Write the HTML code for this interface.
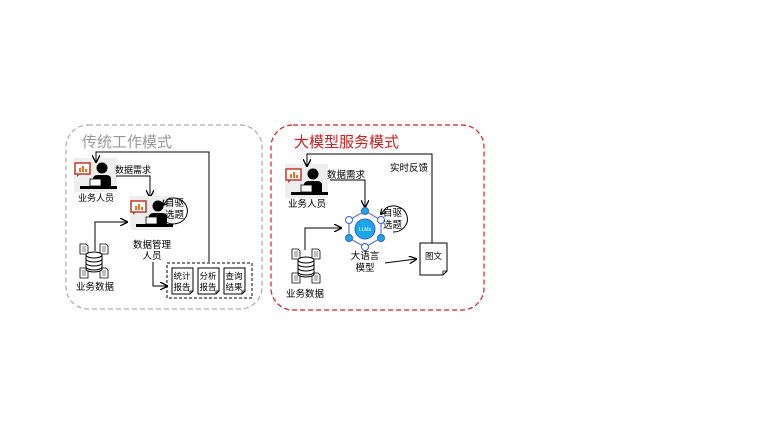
<!DOCTYPE html>
<html><head><meta charset="utf-8"><style>
html,body{margin:0;padding:0;background:#fff;}
svg{display:block;font-family:"Liberation Sans","Noto Sans CJK SC",sans-serif;}
</style></head><body>
<svg width="781" height="439" viewBox="0 0 781 439" xmlns="http://www.w3.org/2000/svg">
<defs>
<marker id="ar" markerWidth="8" markerHeight="8" refX="7" refY="4" orient="auto" markerUnits="userSpaceOnUse">
<path d="M0,0 L8,4 L0,8" fill="none" stroke="#000" stroke-width="1.3"/></marker>
<marker id="ar2" markerWidth="6" markerHeight="6" refX="5" refY="3" orient="auto" markerUnits="userSpaceOnUse">
<path d="M0,0 L6,3 L0,6" fill="none" stroke="#000" stroke-width="1.2"/></marker>
<g id="person">
<rect x="0" y="0" width="43" height="34" fill="#eeeeee"/>
<rect x="1" y="5" width="15" height="11" fill="#fff" stroke="#c0392b" stroke-width="1.5"/>
<path d="M3,16 L3,19 L6,16" fill="#c0392b"/>
<rect x="5" y="10" width="2" height="4" fill="#f07020"/><rect x="8" y="8" width="2" height="6" fill="#f07020"/><rect x="11" y="11" width="2" height="3" fill="#f07020"/>
<circle cx="28" cy="10" r="5.5" fill="#000"/>
<path d="M19,28 L19,21 Q19,17 24,17 L32,17 Q37,17 37,21 L37,28 Z" fill="#000"/>
<rect x="16" y="21" width="11" height="7" fill="#fff" stroke="#000" stroke-width="0.8"/>
<rect x="6" y="28" width="37" height="3" fill="#000"/>
</g>
<g id="doc">
<path d="M0,0 h6 l2,2 v8 h-8 Z" fill="#fff" stroke="#000" stroke-width="0.8"/>
<path d="M2,3h4M2,5h4M2,7h4" stroke="#000" stroke-width="0.6"/>
</g>
<g id="db">
<use href="#doc" x="0" y="0"/><use href="#doc" x="20" y="0"/><use href="#doc" x="0" y="24"/><use href="#doc" x="20" y="24"/>
<g fill="#fff" stroke="#000" stroke-width="1">
<path d="M6,11 v14 a8,3 0 0 0 16,0 v-14"/>
<ellipse cx="14" cy="11" rx="8" ry="3"/>
<path d="M6,15 a8,3 0 0 0 16,0 M6,19 a8,3 0 0 0 16,0 M6,23 a8,3 0 0 0 16,0" fill="none"/>
</g>
</g>
<g id="rep">
<path d="M0,0 h21 v23 l-3,3 h-18 Z" fill="#fff" stroke="#000" stroke-width="1"/>
<path d="M18,26 v-3 h3" fill="none" stroke="#000" stroke-width="0.8"/>
</g>
</defs>

<!-- Left box -->
<rect x="66" y="125" width="196" height="184" rx="22" fill="none" stroke="#aaa" stroke-width="1.2" stroke-dasharray="5,3"/>
<text x="82" y="147" font-size="15" fill="#999">传统工作模式</text>

<use href="#person" x="74" y="158"/>
<text x="96" y="201" font-size="9" text-anchor="middle">业务人员</text>
<text x="115" y="173" font-size="9">数据需求</text>
<path d="M116,176 H150 V197" fill="none" stroke="#000" stroke-width="1" marker-end="url(#ar)"/>
<path d="M209,262 V152 H96 V162" fill="none" stroke="#000" stroke-width="1" marker-end="url(#ar)"/>

<use href="#person" x="130" y="196"/>
<text x="165" y="206" font-size="9.5">自驱</text>
<text x="165" y="218" font-size="9.5">选题</text>
<path d="M168,199 A14,13 0 1 1 166,222" fill="none" stroke="#000" stroke-width="1"/>
<path d="M168,199 L163,205" fill="none" stroke="#000" stroke-width="1" marker-end="url(#ar2)"/>
<text x="152" y="248" font-size="9.5" text-anchor="middle">数据管理</text>
<text x="152" y="259" font-size="9.5" text-anchor="middle">人员</text>

<use href="#db" x="80" y="244"/>
<text x="95" y="290" font-size="9.5" text-anchor="middle">业务数据</text>
<path d="M95,251 V222 H127" fill="none" stroke="#000" stroke-width="1" marker-end="url(#ar)"/>
<path d="M153,262 V286 H167" fill="none" stroke="#000" stroke-width="1" marker-end="url(#ar)"/>

<rect x="167" y="263" width="85" height="35" fill="none" stroke="#000" stroke-width="1" stroke-dasharray="3,2"/>
<use href="#rep" x="172" y="268"/><use href="#rep" x="198" y="268"/><use href="#rep" x="224" y="268"/>
<text x="182" y="279" font-size="8.5" text-anchor="middle">统计</text><text x="182" y="290" font-size="8.5" text-anchor="middle">报告</text>
<text x="208" y="279" font-size="8.5" text-anchor="middle">分析</text><text x="208" y="290" font-size="8.5" text-anchor="middle">报告</text>
<text x="234" y="279" font-size="8.5" text-anchor="middle">查询</text><text x="234" y="290" font-size="8.5" text-anchor="middle">结果</text>

<!-- Right box -->
<rect x="271" y="125" width="213" height="185" rx="22" fill="none" stroke="#d42020" stroke-width="1.2" stroke-dasharray="5,3"/>
<text x="294" y="147" font-size="15" fill="#d42020">大模型服务模式</text>

<use href="#person" x="285" y="164"/>
<text x="307" y="207" font-size="9.5" text-anchor="middle">业务人员</text>
<text x="327" y="178" font-size="9.5">数据需求</text>
<path d="M330,180 H365 V207" fill="none" stroke="#000" stroke-width="1" marker-end="url(#ar)"/>
<text x="390" y="171" font-size="9.5">实时反馈</text>
<path d="M432,243 V154 H307 V166" fill="none" stroke="#000" stroke-width="1" marker-end="url(#ar)"/>

<!-- LLM -->
<polygon points="365,211 381,220 381,238 365,247 349,238 349,220" fill="none" stroke="#3a5fcd" stroke-width="1"/>
<circle cx="365" cy="229" r="10" fill="#1aa8e8" stroke="#3a5fcd"/>
<text x="365" y="231" font-size="5" fill="#fff" text-anchor="middle">LLMs</text>
<g stroke="#3a5fcd" stroke-width="1">
<circle cx="365" cy="211" r="3.5" fill="#1aa8e8"/><circle cx="381" cy="220" r="3.5" fill="#fff"/>
<circle cx="381" cy="238" r="3.5" fill="#1aa8e8"/><circle cx="365" cy="247" r="3.5" fill="#fff"/>
<circle cx="349" cy="238" r="3.5" fill="#1aa8e8"/><circle cx="349" cy="220" r="3.5" fill="#fff"/>
</g>
<text x="383" y="216" font-size="9.5">自驱</text>
<text x="383" y="228" font-size="9.5">选题</text>
<path d="M386,208 A14,13 0 1 1 393,232" fill="none" stroke="#000" stroke-width="1"/>
<path d="M386,208 L381,214" fill="none" stroke="#000" stroke-width="1" marker-end="url(#ar2)"/>
<text x="365" y="259" font-size="9.5" text-anchor="middle">大语言</text>
<text x="365" y="271" font-size="9.5" text-anchor="middle">模型</text>
<path d="M385,263 L416,259" fill="none" stroke="#000" stroke-width="1" marker-end="url(#ar)"/>
<path d="M420,243 h27 v28 l-4,4 h-23 Z" fill="#fff" stroke="#000" stroke-width="1"/>
<path d="M443,275 v-4 h4" fill="none" stroke="#000" stroke-width="0.8"/>
<text x="425" y="259" font-size="8.5">图文</text>

<use href="#db" x="292" y="249"/>
<text x="305" y="297" font-size="9.5" text-anchor="middle">业务数据</text>
<path d="M305,250 V228 H341" fill="none" stroke="#000" stroke-width="1" marker-end="url(#ar)"/>
</svg>
</body></html>
